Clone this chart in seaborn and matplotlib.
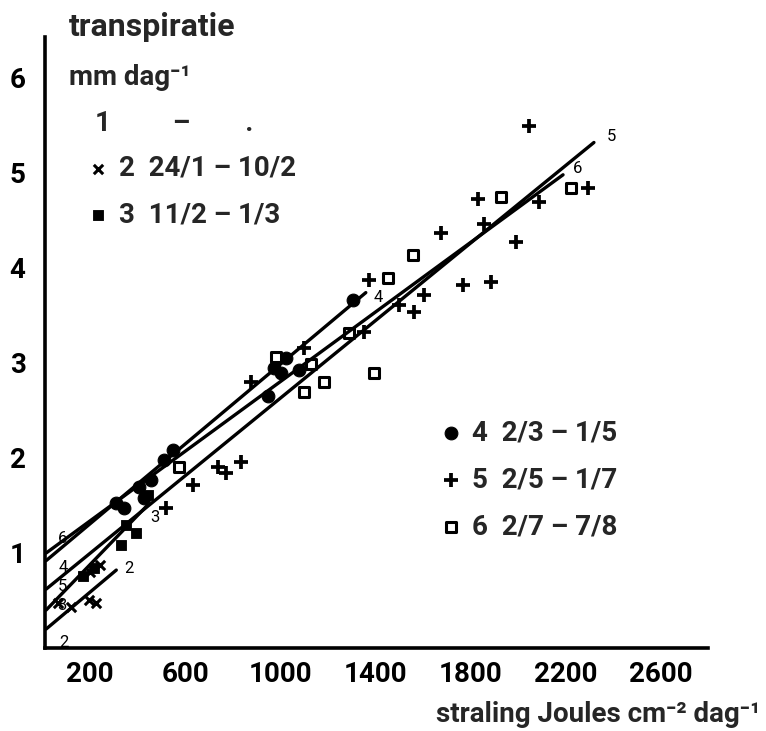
import numpy as np
import pandas as pd
import seaborn as sns
import matplotlib.pyplot as plt

# transpiration (mm/day) against radiation (J cm-2 day-1), one series per period
# series 2: 24/1 - 10/2  (x)
x2 = [63, 118, 194, 223, 200, 240]
y2 = [0.47, 0.43, 0.51, 0.47, 0.80, 0.87]
# series 3: 11/2 - 1/3  (filled square)
x3 = [170, 215, 328, 349, 392, 442]
y3 = [0.76, 0.84, 1.08, 1.29, 1.21, 1.61]
# series 4: 2/3 - 1/5  (dot)
x4 = [307, 341, 404, 425, 455, 509, 547, 947, 973, 1002, 1023, 1078, 1305]
y4 = [1.53, 1.47, 1.69, 1.58, 1.77, 1.98, 2.08, 2.65, 2.95, 2.89, 3.05, 2.93, 3.66]
# series 5: 2/5 - 1/7  (+)
x5 = [518, 632, 737, 771, 834, 876, 1099, 1352, 1373, 1499, 1562, 1604, 1676,
      1768, 1831, 1857, 1886, 1992, 2046, 2088, 2295]
y5 = [1.47, 1.72, 1.91, 1.84, 1.96, 2.80, 3.16, 3.33, 3.87, 3.61, 3.54, 3.72, 4.37,
      3.82, 4.72, 4.46, 3.85, 4.27, 5.49, 4.69, 4.84]
# series 6: 2/7 - 7/8  (open square)
x6 = [573, 981, 1099, 1128, 1183, 1288, 1394, 1452, 1558, 1928, 2223]
y6 = [1.91, 3.06, 2.69, 2.99, 2.80, 3.32, 2.89, 3.89, 4.14, 4.75, 4.84]

# regression lines (start and end points)
line_id = ['2', '3', '4', '5', '6']
line_x0 = [15, 15, 15, 15, 15]
line_y0 = [0.20, 0.40, 0.92, 0.62, 1.00]
line_x1 = [310, 440, 1360, 2320, 2190]
line_y1 = [0.82, 1.50, 3.74, 5.32, 4.98]

legend_row1 = '1         \u2013        .'
legend_top = ['2  24/1 \u2013 10/2', '3  11/2 \u2013 1/3']
legend_bottom = ['4  2/3 \u2013 1/5', '5  2/5 \u2013 1/7', '6  2/7 \u2013 7/8']

x_ticks = list(range(200, 2801, 200))
x_ticklabels = [str(t) if (t - 200) % 400 == 0 and t < 2800 else '' for t in x_ticks]
y_ticks = [1, 2, 3, 4, 5, 6]

sns.set_style('white')
plt.rcParams['font.family'] = ['Roboto', 'DejaVu Sans']
plt.rcParams['font.weight'] = 'bold'

fig = plt.figure(figsize=(7.66, 7.31), dpi=100)
ax = fig.add_axes([45 / 766, 83 / 731, 663 / 766, 611 / 731])

lines = pd.DataFrame({
    'line': line_id * 2,
    'x': line_x0 + line_x1,
    'y': line_y0 + line_y1,
})
sns.lineplot(data=lines, x='x', y='y', units='line', estimator=None,
             color='black', linewidth=2.4, ax=ax, legend=False)

h2 = sns.scatterplot(x=x2, y=y2, marker='x', color='black', s=45, linewidth=2.2, ax=ax).collections[-1]
h3 = sns.scatterplot(x=x3, y=y3, marker='s', color='black', s=60, edgecolor='black', ax=ax).collections[-1]
h4 = sns.scatterplot(x=x4, y=y4, marker='o', color='black', s=85, edgecolor='black', ax=ax).collections[-1]
h5 = sns.scatterplot(x=x5, y=y5, marker='+', color='black', s=110, linewidth=2.7, ax=ax).collections[-1]
h6 = sns.scatterplot(x=x6, y=y6, marker='s', color='white', s=45, edgecolor='black',
                     linewidth=2.2, ax=ax).collections[-1]

# line number labels
fs_small = 12
for lab, px, py in [('6', 63, 1.15), ('4', 68, 0.85), ('5', 63, 0.65), ('3', 63, 0.45), ('2', 68, 0.06),
                    ('2', 345, 0.84), ('3', 455, 1.37), ('4', 1395, 3.69), ('6', 2230, 5.05), ('5', 2375, 5.38)]:
    ax.text(px, py, lab, fontsize=fs_small, fontweight='normal', ha='left', va='center', color='black')

ax.text(0.075, 0.859, legend_row1, transform=ax.transAxes, fontsize=20,
        ha='left', va='center')
leg1 = ax.legend([h2, h3], legend_top, loc='upper left', bbox_to_anchor=(0.068, 0.807),
                 frameon=False, fontsize=20, handlelength=0.6, handletextpad=0.45,
                 labelspacing=0.7, borderpad=0, borderaxespad=0)
ax.add_artist(leg1)
ax.legend([h4, h5, h6], legend_bottom, loc='upper left', bbox_to_anchor=(0.60, 0.3735),
          frameon=False, fontsize=20, handlelength=0.6, handletextpad=0.45,
          labelspacing=0.72, borderpad=0, borderaxespad=0)

ax.text(0.036, 1.016, 'transpiratie', transform=ax.transAxes, fontsize=23,
        ha='left', va='center', clip_on=False)
ax.text(0.036, 0.933, 'mm dag\u207b\u00b9', transform=ax.transAxes, fontsize=20,
        ha='left', va='center')
fig.text(760 / 766, 1 - 715 / 731, 'straling Joules cm\u207b\u00b2 dag\u207b\u00b9',
         fontsize=20, ha='right', va='center')

ax.set_xlim(10, 2800)
ax.set_ylim(0, 6.43)
ax.set_xticks(x_ticks)
ax.set_xticklabels(x_ticklabels)
ax.set_yticks(y_ticks)
ax.set_yticklabels([str(t) for t in y_ticks])
ax.tick_params(axis='both', direction='in', length=4, width=2, labelsize=20, colors='black')
ax.tick_params(axis='x', pad=9)
ax.tick_params(axis='y', pad=14)
ax.set_xlabel('')
ax.set_ylabel('')
for side in ['top', 'right']:
    ax.spines[side].set_visible(False)
for side in ['left', 'bottom']:
    ax.spines[side].set_linewidth(2.6)
    ax.spines[side].set_color('black')

fig.savefig('out.png', dpi=100)
